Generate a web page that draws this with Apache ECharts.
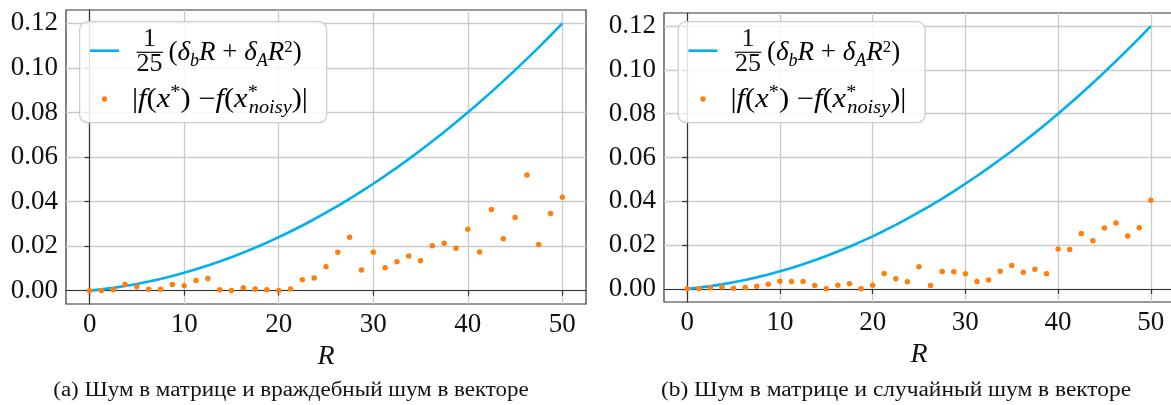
<!DOCTYPE html>
<html>
<head>
<meta charset="utf-8">
<script src="https://cdn.jsdelivr.net/npm/echarts@6/dist/echarts.min.js"></script>
<style>
html,body{margin:0;padding:0;background:#fff;}
#chart{width:1171px;height:405px;}
</style>
</head>
<body>
<div id="chart"></div>
<script>
// ---- data ----
const R = [0, 1.25, 2.5, 3.75, 5, 6.25, 7.5, 8.75, 10, 11.25, 12.5, 13.75, 15, 16.25, 17.5, 18.75, 20,
  21.25, 22.5, 23.75, 25, 26.25, 27.5, 28.75, 30, 31.25, 32.5, 33.75, 35, 36.25, 37.5, 38.75, 40,
  41.25, 42.5, 43.75, 45, 46.25, 47.5, 48.75, 50];
const bound = [0, 0.00056, 0.00125, 0.00206, 0.003, 0.00406, 0.00525, 0.00656, 0.008, 0.00956, 0.01125,
  0.01306, 0.015, 0.01706, 0.01925, 0.02156, 0.024, 0.02656, 0.02925, 0.03206, 0.035, 0.03806, 0.04125,
  0.04456, 0.048, 0.05156, 0.05525, 0.05906, 0.063, 0.06706, 0.07125, 0.07556, 0.08, 0.08456, 0.08925,
  0.09406, 0.099, 0.10406, 0.10925, 0.11456, 0.12];
const errAdversarial = [0, 0.0001, 0.0004, 0.0028, 0.0018, 0.0006, 0.0006, 0.0027, 0.0022, 0.0045, 0.0054,
  0.0004, 0.0001, 0.0013, 0.0007, 0.0004, 0.0001, 0.0007, 0.0049, 0.0057, 0.0107, 0.0172, 0.0240, 0.0093,
  0.0172, 0.0103, 0.0130, 0.0155, 0.0134, 0.0201, 0.0213, 0.0190, 0.0276, 0.0173, 0.0364, 0.0233, 0.0328,
  0.0519, 0.0207, 0.0346, 0.0419];
const errRandom = [0, 0.0001, 0.0005, 0.0009, 0.0003, 0.0006, 0.0012, 0.0021, 0.0035, 0.0034, 0.0034,
  0.0015, 0, 0.0017, 0.0023, 0, 0.0017, 0.0070, 0.0046, 0.0032, 0.0101, 0.0015, 0.0079, 0.0078, 0.0069,
  0.0034, 0.0040, 0.0081, 0.0107, 0.0076, 0.0090, 0.0069, 0.0182, 0.0180, 0.0253, 0.0220, 0.0278, 0.0301,
  0.0241, 0.0279, 0.0405];
const xTicks = [0, 10, 20, 30, 40, 50];
const yTicks = [0, 0.02, 0.04, 0.06, 0.08, 0.10, 0.12];
const captions = ['(a) Шум в матрице и враждебный шум в векторе', '(b) Шум в матрице и случайный шум в векторе'];

// ---- styling ----
const FONT = 'Liberation Serif';
const INK = '#111111';
const BLUE = '#00b0f0';
const ORANGE = '#ff7f0e';
const grids = [
  {left: 66, top: 10, width: 520, height: 294},
  {left: 664, top: 13, width: 510, height: 289}
];
const legendOffsets = [0, 598.5];
const captionX = [291, 896];
const captionScale = [1.15, 1.17];

function xAxis(i) {
  return {
    gridIndex: i, type: 'value', min: -2.5, max: 52.5,
    axisLine: {show: true, lineStyle: {color: '#333', width: 1.2}},
    axisTick: {show: true, customValues: xTicks, length: 5, lineStyle: {color: '#333', width: 1.2}},
    axisLabel: {customValues: xTicks, fontFamily: FONT, fontSize: 27, color: INK, margin: 7},
    splitLine: {show: true, lineStyle: {color: '#cbcbcb', width: 1.3}},
    name: 'R', nameLocation: 'middle', nameGap: 36,
    nameTextStyle: {fontFamily: FONT, fontStyle: 'italic', fontSize: 28, color: INK}
  };
}
function yAxis(i) {
  return {
    gridIndex: i, type: 'value', min: -0.006, max: 0.126,
    axisLine: {show: true, lineStyle: {color: '#333', width: 1.2}},
    axisTick: {show: true, customValues: yTicks, length: 5, lineStyle: {color: '#333', width: 1.2}},
    axisLabel: {customValues: yTicks, fontFamily: FONT, fontSize: 27, color: INK, margin: 8,
      formatter: v => v.toFixed(2)},
    splitLine: {show: true, lineStyle: {color: '#cbcbcb', width: 1.3}}
  };
}
function pairs(ys) { return R.map((r, k) => [r, ys[k]]); }

const big = {fontFamily: FONT, fontSize: 27, color: INK};
const ital = {fontFamily: FONT, fontSize: 27, fontStyle: 'italic', color: INK};
const sub = {fontFamily: FONT, fontSize: 18, fontStyle: 'italic', color: INK, padding: [17, 0, 0, 0]};
const sup = {fontFamily: FONT, fontSize: 17, color: INK, padding: [0, 0, 10, 0]};
const supStar = {fontFamily: FONT, fontSize: 18, color: INK, padding: [0, 0, 14, 0]};
const supStar0 = {fontFamily: FONT, fontSize: 18, color: INK, padding: [0, 0, 14, 0], width: 1};
const subNoisy = {fontFamily: FONT, fontSize: 18, fontStyle: 'italic', color: INK, padding: [17, 0, 0, 0]};

function legendGraphics(dx) {
  return [
    {type: 'rect', left: 79 + dx, top: 21, z: 100,
      shape: {width: 247, height: 101, r: 8},
      style: {fill: 'rgba(255,255,255,0.85)', stroke: '#cccccc', lineWidth: 1.3}},
    {type: 'line', z: 101, shape: {x1: 90 + dx, y1: 50.7, x2: 119 + dx, y2: 50.7},
      style: {stroke: BLUE, lineWidth: 2.6}},
    {type: 'circle', z: 101, shape: {cx: 104.5 + dx, cy: 99, r: 2.7}, style: {fill: ORANGE}},
    {type: 'text', z: 101, x: 149.5 + dx, y: 39.5,
      style: {text: '1', fontFamily: FONT, fontSize: 26, fill: INK, align: 'center', verticalAlign: 'middle'}},
    {type: 'line', z: 101, shape: {x1: 136.5 + dx, y1: 52.3, x2: 163 + dx, y2: 52.3},
      style: {stroke: INK, lineWidth: 1.2}},
    {type: 'text', z: 101, x: 149.5 + dx, y: 64.5,
      style: {text: '25', fontFamily: FONT, fontSize: 26, fill: INK, align: 'center', verticalAlign: 'middle'}},
    {type: 'text', z: 101, x: 168.5 + dx, y: 53, scaleX: 1.0,
      style: {
        text: '{p|(}{i|δ}{s|b}{i|R}{p| + }{i|δ}{s|A}{i|R}{u|2}{p|)}',
        align: 'left', verticalAlign: 'middle',
        rich: {p: big, i: ital, s: sub, u: sup}
      }},
    {type: 'text', z: 101, x: 132 + dx, y: 100, scaleX: 1.13,
      style: {
        text: '{p||}{i|f}{p|(}{i|x}{u|*}{p|) −}{i|f}{p|(}{i|x}{st|*}{n|noisy}{p|)|}',
        align: 'left', verticalAlign: 'middle',
        rich: {p: big, i: ital, u: supStar, st: supStar0, n: subNoisy}
      }}
  ];
}

const graphics = [];
for (let i = 0; i < 2; i++) {
  graphics.push(...legendGraphics(legendOffsets[i]));
  graphics.push({type: 'text', z: 101, x: captionX[i], y: 391, scaleX: captionScale[i],
    style: {text: captions[i], fontFamily: FONT, fontSize: 20, fill: INK, align: 'center', verticalAlign: 'middle'}});
}

const series = [];
[errAdversarial, errRandom].forEach((err, i) => {
  series.push({type: 'line', xAxisIndex: i, yAxisIndex: i, data: pairs(bound), showSymbol: false,
    smooth: false, lineStyle: {color: BLUE, width: 2.6}, itemStyle: {color: BLUE}, z: 2, animation: false});
  series.push({type: 'scatter', xAxisIndex: i, yAxisIndex: i, data: pairs(err), symbolSize: 5.5,
    itemStyle: {color: ORANGE, opacity: 1}, z: 3, animation: false});
});

const chart = echarts.init(document.getElementById('chart'), null, {renderer: 'canvas'});
chart.setOption({
  animation: false,
  backgroundColor: '#ffffff',
  grid: grids.map(g => Object.assign({show: true, borderColor: '#333', borderWidth: 1.2,
    backgroundColor: 'transparent', containLabel: false, outerBoundsMode: 'none'}, g)),
  xAxis: [xAxis(0), xAxis(1)],
  yAxis: [yAxis(0), yAxis(1)],
  series: series,
  graphic: graphics
});
</script>
</body>
</html>
